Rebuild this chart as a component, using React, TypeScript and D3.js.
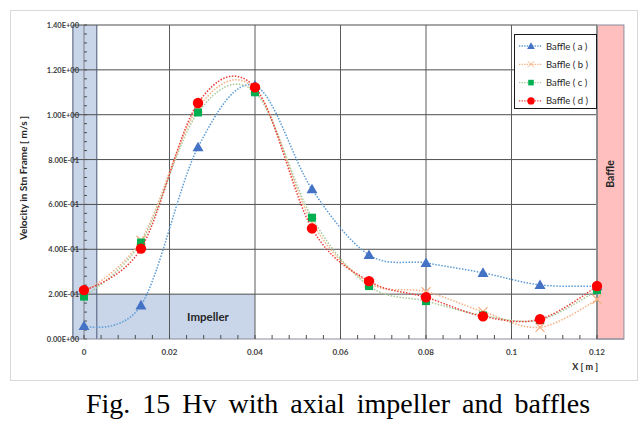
import * as d3 from 'd3';

const xPoints = [0, 0.01333, 0.02667, 0.04, 0.05333, 0.06667, 0.08, 0.09333, 0.10667, 0.12];
const baffleA = [0.058, 0.15, 0.855, 1.13, 0.668, 0.375, 0.339, 0.295, 0.241, 0.236];
const baffleB = [0.21, 0.44, 1.03, 1.115, 0.52, 0.25, 0.211, 0.122, 0.052, 0.177];
const baffleC = [0.189, 0.43, 1.01, 1.10, 0.541, 0.236, 0.169, 0.105, 0.085, 0.218];
const baffleD = [0.218, 0.403, 1.052, 1.122, 0.493, 0.258, 0.186, 0.101, 0.088, 0.236];
const seriesNames = ['Baffle ( a )', 'Baffle ( b )', 'Baffle ( c )', 'Baffle ( d )'];
const xTicks = [0, 0.02, 0.04, 0.06, 0.08, 0.1, 0.12];
const yTicks = [0, 0.2, 0.4, 0.6, 0.8, 1.0, 1.2, 1.4];
const xDomain = [-0.0026, 0.1263];
const stripEnd = 0.003;
const impellerBox = { x1: 0.04, y1: 0.2 };

const font = 'Lato, "Open Sans", sans-serif';

function sci(v: number) {
  if (v === 0) return '0.00E+00';
  const e = Math.floor(Math.log10(v) + 1e-9);
  const m = v / Math.pow(10, e);
  const sign = e < 0 ? '-' : '+';
  return `${m.toFixed(2)}E${sign}${String(Math.abs(e)).padStart(2, '0')}`;
}

const styles = [
  { line: '#5b9bd5', mark: '#4472c4', shape: 'tri' },
  { line: '#f4b183', mark: '#f4b183', shape: 'x' },
  { line: '#a9c99a', mark: '#00b050', shape: 'sq' },
  { line: '#e8403a', mark: '#ff0000', shape: 'circ' },
];

function Marker({ shape, color, cx, cy }: { shape: string; color: string; cx: number; cy: number }) {
  if (shape === 'tri') {
    const s = 5.5;
    return <path d={`M${cx},${cy - s}L${cx + s},${cy + s * 0.75}L${cx - s},${cy + s * 0.75}Z`} fill={color} />;
  }
  if (shape === 'x') {
    const s = 4.5;
    return <path d={`M${cx - s},${cy - s}L${cx + s},${cy + s}M${cx + s},${cy - s}L${cx - s},${cy + s}`} stroke={color} strokeWidth={1.3} fill="none" />;
  }
  if (shape === 'sq') {
    return <rect x={cx - 4} y={cy - 4} width={8} height={8} fill={color} />;
  }
  return <circle cx={cx} cy={cy} r={5.2} fill={color} />;
}

export default function App() {
  const x = d3.scaleLinear().domain([0, 0.12]).range([84, 597]);
  const y = d3.scaleLinear().domain([0, 1.4]).range([339, 25]);
  const left = x(xDomain[0]);
  const right = x(xDomain[1]);
  const bottom = y(0);
  const top = y(1.4);
  const series = [baffleA, baffleB, baffleC, baffleD];
  const line = d3.line<[number, number]>()
    .x(d => x(d[0])).y(d => y(d[1]))
    .curve(d3.curveCardinal.tension(0));
  const minorX = d3.range(0, 0.1201, 0.004);
  const minorY = d3.range(0, 1.4001, 0.04);
  const legendX = 514, legendY = 34;

  return (
    <svg width={642} height={428} style={{ position: 'absolute', left: 0, top: 0, background: '#fff' }}>
      <rect x={10.5} y={10.5} width={627} height={370} fill="#fff" stroke="#d9d9d9" />
      {/* impeller regions */}
      <rect x={left} y={top} width={x(stripEnd) - left} height={bottom - top} fill="#c9d6ea" />
      <rect x={left} y={y(impellerBox.y1)} width={x(impellerBox.x1) - left} height={bottom - y(impellerBox.y1)} fill="#c9d6ea" />
      {/* baffle region */}
      <rect x={x(0.12)} y={top} width={right - x(0.12)} height={bottom - top} fill="#ffbfbf" stroke="#8c8c9c" strokeWidth={1} />
      {/* grid */}
      {yTicks.filter(v => v > 0).map(v => (
        <line key={'gy' + v} x1={left} x2={x(0.12)} y1={y(v)} y2={y(v)} stroke="#4d4d4d" strokeWidth={1} />
      ))}
      {xTicks.filter(v => v > 0 && v < 0.12).map(v => (
        <line key={'gx' + v} x1={x(v)} x2={x(v)} y1={top} y2={bottom} stroke="#5a5a5a" strokeWidth={1} />
      ))}
      <line x1={x(0.12)} x2={x(0.12)} y1={top} y2={bottom} stroke="#8c8c8c" strokeWidth={2} />
      <line x1={left} x2={left} y1={top} y2={bottom} stroke="#4a5673" strokeWidth={1} />
      <line x1={x(stripEnd)} x2={x(stripEnd)} y1={top} y2={bottom} stroke="#4a5673" strokeWidth={1} />
      {/* axes */}
      <line x1={x(0)} x2={x(0)} y1={top} y2={bottom} stroke="#6a6a6a" strokeWidth={0.8} />
      {minorY.map(v => (
        <line key={'my' + v} x1={x(0)} x2={x(0) + 3} y1={y(v)} y2={y(v)} stroke="#4d4d4d" />
      ))}
      <line x1={left} x2={right} y1={bottom} y2={bottom} stroke="#8c8c9c" strokeWidth={1} />
      {minorX.map(v => (
        <line key={'mx' + v} x1={x(v)} x2={x(v)} y1={bottom - 4} y2={bottom} stroke="#4d4d4d" />
      ))}
      {yTicks.map(v => (
        <text key={'ty' + v} x={79} y={y(v) + 3} textAnchor="end" fontFamily={font} fontSize={7.5} fontWeight="bold" fill="#404040">{sci(v)}</text>
      ))}
      {xTicks.map(v => (
        <text key={'tx' + v} x={x(v)} y={bottom + 16} textAnchor="middle" fontFamily={font} fontSize={8} fontWeight="bold" fill="#404040">{v === 0 ? '0' : String(v)}</text>
      ))}
      <text x={598} y={370} textAnchor="end" fontFamily={font} fontSize={9} fontWeight="bold" fill="#262626">X [ m ]</text>
      <text transform={`translate(27,${(top + bottom) / 2 - 4}) rotate(-90)`} textAnchor="middle" fontFamily={font} fontSize={10} fontWeight="bold" fill="#262626">Velocity in Stn Frame [ m/s ]</text>
      <text x={208} y={y(0.1) + 4} textAnchor="middle" fontFamily={font} fontSize={11.5} fontWeight="bold" fill="#262626">Impeller</text>
      <text transform={`translate(${(x(0.12) + right) / 2 + 4},${(top + bottom) / 2 - 8}) rotate(-90)`} textAnchor="middle" fontFamily={font} fontSize={10.5} fontWeight="bold" fill="#262626">Baffle</text>
      {/* series */}
      {series.map((vals, i) => {
        const pts = xPoints.map((xv, j) => [xv, vals[j]] as [number, number]);
        return (
          <g key={'s' + i}>
            <path d={line(pts) || ''} fill="none" stroke={styles[i].line} strokeWidth={1.5} strokeDasharray="1.5 1.5" />
            {pts.map((p, j) => (
              <Marker key={j} shape={styles[i].shape} color={styles[i].mark} cx={x(p[0])} cy={y(p[1])} />
            ))}
          </g>
        );
      })}
      {/* legend */}
      <rect x={legendX + 0.5} y={legendY + 0.5} width={82} height={74} fill="#fff" stroke="#1a1a1a" strokeWidth={1} />
      {seriesNames.map((n, i) => {
        const ly = legendY + 12 + i * 18.3;
        return (
          <g key={'l' + i}>
            <line x1={legendX + 5} x2={legendX + 28} y1={ly} y2={ly} stroke={styles[i].line} strokeWidth={1.3} strokeDasharray="1.3 1.3" />
            <g transform={`translate(${legendX + 17},${ly}) scale(0.7)`}>
              <Marker shape={styles[i].shape} color={styles[i].mark} cx={0} cy={0} />
            </g>
            <text x={legendX + 32} y={ly + 3.5} fontFamily={font} fontSize={9.5} fill="#262626">{n}</text>
          </g>
        );
      })}
      <text x={338} y={413} textAnchor="middle" fontFamily='"Liberation Serif", "Times New Roman", serif' fontSize={28} wordSpacing={5} fill="#000">Fig. 15 Hv with axial impeller and baffles</text>
    </svg>
  );
}
